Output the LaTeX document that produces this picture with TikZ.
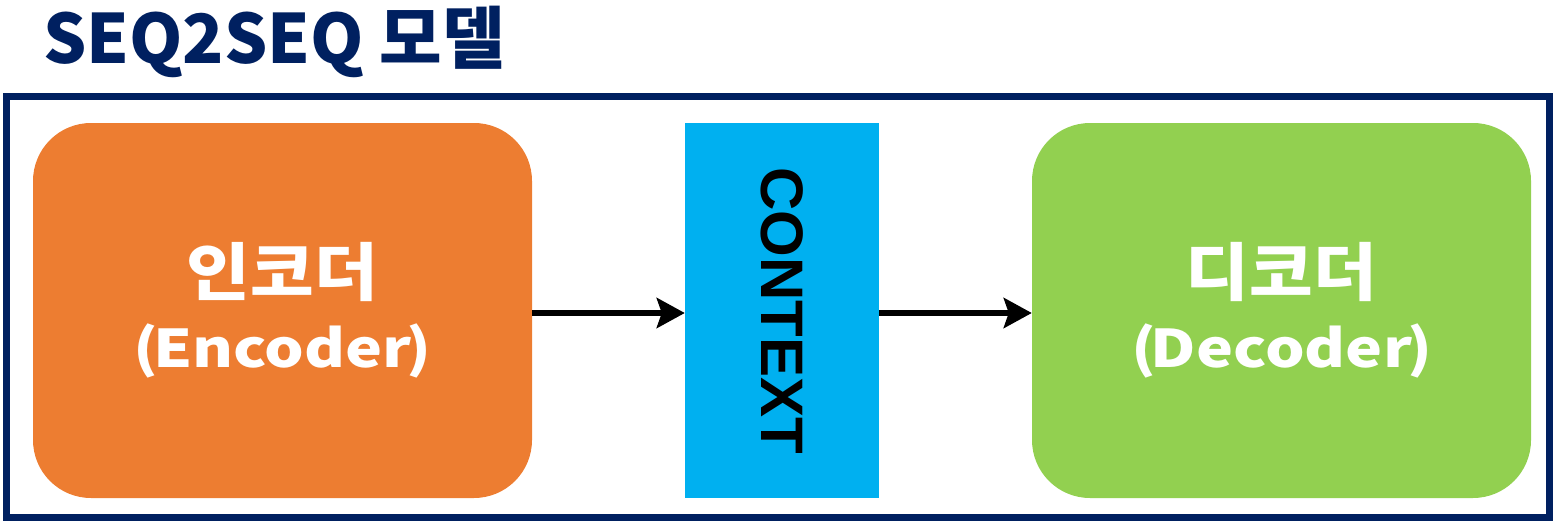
\documentclass[tikz,border=0pt]{standalone}
\usepackage{fontspec}
\usetikzlibrary{arrows.meta}
\newfontfamily\krfont{Noto Sans CJK KR}
\newfontfamily\krwide{Noto Sans CJK KR}[FakeStretch=1.2]
\newfontfamily\krhan{Noto Sans CJK KR}[FakeStretch=1.1]
\newfontfamily\ctxfont{Liberation Sans}
\definecolor{navy}{HTML}{002060}
\definecolor{encorange}{HTML}{ED7D31}
\definecolor{ctxblue}{HTML}{00B0F0}
\definecolor{decgreen}{HTML}{92D050}
\newcommand\hanline[1]{{\krhan\bfseries\fontsize{63}{72}\selectfont #1}}
\newcommand\latline[1]{(\kern-5pt #1\kern-5pt)}
\tikzset{
  blockbox/.style={rounded corners=58pt, minimum width=499pt, minimum height=375pt,
    inner sep=0pt, text=white, align=center, font=\krwide\bfseries\fontsize{52}{72}\selectfont},
  ctxbox/.style={fill=ctxblue, minimum width=194pt, minimum height=375pt, inner sep=0pt},
  flowarrow/.style={line width=6pt, -{Stealth[length=28pt,width=30pt,inset=5pt,fill=black]}},
}
\begin{document}
\begin{tikzpicture}[x=1pt,y=-1pt]
\useasboundingbox (0,0) rectangle (1561,530);
\node[anchor=base west, text=navy, inner sep=0pt,
  font=\krfont\bfseries\fontsize{68}{68}\selectfont] (title) at (43,63) {SEQ2SEQ 모델};
\draw[navy, line width=7pt] (6.5,96) rectangle (1549,517);
\node[blockbox, fill=encorange] (enc) at (282.5,310.5)
  {\hanline{인코더}\\\latline{Encoder}};
\node[ctxbox] (ctx) at (782,310.5) {};
\node[rotate=-90, inner sep=0pt, font=\ctxfont\bfseries\fontsize{60}{60}\selectfont] (ctxtext) at (ctx.center) {CONTEXT};
\node[blockbox, fill=decgreen] (dec) at (1281.5,310.5)
  {\hanline{디코더}\\\latline{Decoder}};
\draw[flowarrow] ([yshift=-2.5pt]enc.east) -- ([yshift=-2.5pt]ctx.west);
\draw[flowarrow] ([yshift=-2.5pt]ctx.east) -- ([yshift=-2.5pt]dec.west);
\end{tikzpicture}
\end{document}
